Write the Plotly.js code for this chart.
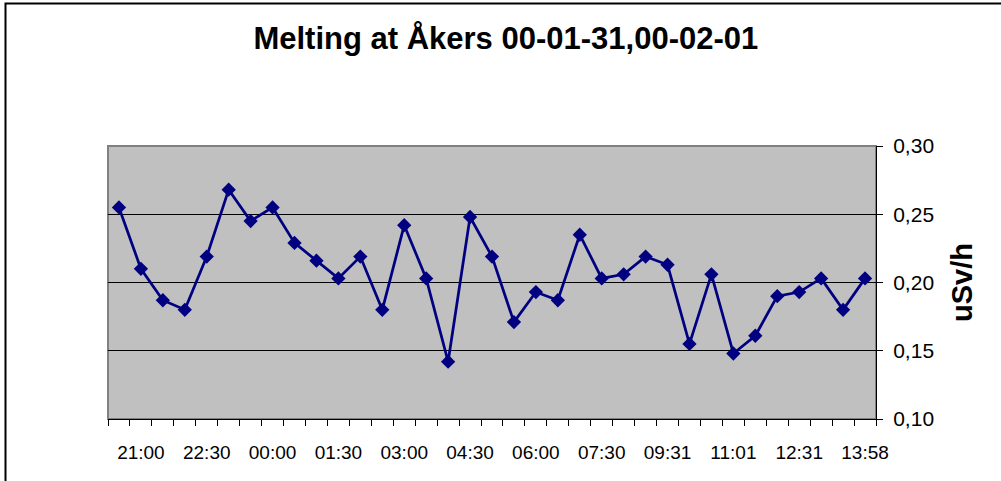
<!DOCTYPE html>
<html>
<head>
<meta charset="utf-8">
<script src="https://cdn.plot.ly/plotly-3.0.1.min.js"></script>
<style>
  html, body { margin: 0; padding: 0; background: #ffffff; }
  #chart { width: 1001px; height: 481px; }
</style>
</head>
<body>
<div id="chart"></div>
<script>
// Time of each reading (every 30 minutes, label shown on every third)
var times = [
  "20:30", "21:00", "21:30", "22:00", "22:30", "23:00", "23:30",
  "00:00", "00:30", "01:00", "01:30", "02:00", "02:30", "03:00",
  "03:30", "04:00", "04:30", "05:00", "05:30", "06:00", "06:30",
  "07:00", "07:30", "08:00", "08:30", "09:31", "10:01", "10:31",
  "11:01", "11:31", "12:01", "12:31", "13:01", "13:31", "13:58"
];
// Dose rate, uSv/h
var doseRate = [
  0.255, 0.210, 0.187, 0.180, 0.219, 0.268, 0.245,
  0.255, 0.229, 0.216, 0.203, 0.219, 0.180, 0.242,
  0.203, 0.142, 0.248, 0.219, 0.171, 0.193, 0.187,
  0.235, 0.203, 0.206, 0.219, 0.213, 0.155, 0.206,
  0.148, 0.161, 0.190, 0.193, 0.203, 0.180, 0.203
];
// Only every third time is written under the axis
var tickText = times.map(function (t, i) { return i % 3 === 1 ? t : ""; });
var yTicks = [0.10, 0.15, 0.20, 0.25, 0.30];

var plotLeft = 108, plotRight = 876, plotTop = 146, plotBottom = 419;
var W = 1001, H = 481;
var pw = plotRight - plotLeft, ph = plotBottom - plotTop;

var trace = {
  type: "scatter",
  mode: "lines+markers",
  x: times,
  y: doseRate,
  line: { color: "#000080", width: 2.75 },
  marker: { symbol: "diamond", size: 11, color: "#000080", line: { width: 0 } },
  hoverinfo: "x+y",
  showlegend: false
};

var layout = {
  width: W,
  height: H,
  margin: { l: plotLeft, r: W - plotRight, t: plotTop, b: H - plotBottom, pad: 0 },
  paper_bgcolor: "#ffffff",
  plot_bgcolor: "#C0C0C0",
  separators: ", ",
  font: { family: "Liberation Sans, Arial, sans-serif", color: "#000000" },
  title: {
    text: "<b>Melting at Åkers 00-01-31,00-02-01</b>",
    font: { family: "Liberation Sans, Arial, sans-serif", size: 31, color: "#000000" },
    x: 0.518, xref: "paper", xanchor: "center",
    y: 1 - 38 / H, yref: "container", yanchor: "middle"
  },
  xaxis: {
    type: "category",
    categoryorder: "array",
    categoryarray: times,
    range: [-0.5, times.length - 0.5],
    tickmode: "array",
    tickvals: times,
    ticktext: tickText,
    tickson: "boundaries",
    tickangle: 0,
    ticks: "outside",
    ticklen: 6,
    tickwidth: 1,
    tickcolor: "#000000",
    showgrid: false,
    zeroline: false,
    showline: true,
    linecolor: "#000000",
    linewidth: 1,
    tickfont: { size: 19, color: "#000000" },
    ticklabelstandoff: 16,
    fixedrange: true
  },
  yaxis: {
    side: "right",
    range: [0.10, 0.30],
    tickmode: "array",
    tickvals: yTicks,
    tickformat: ".2f",
    ticks: "outside",
    ticklen: 6,
    tickwidth: 1,
    tickcolor: "#000000",
    showgrid: true,
    gridcolor: "#000000",
    gridwidth: 1,
    zeroline: false,
    showline: true,
    linecolor: "#000000",
    linewidth: 1,
    tickfont: { size: 21, color: "#000000" },
    ticklabelstandoff: 6,
    automargin: false,
    title: {
      text: "<b>uSv/h</b>",
      font: { size: 29, color: "#000000" },
      standoff: 18
    },
    fixedrange: true
  },
  shapes: [
    {
      type: "rect", xref: "paper", yref: "paper", layer: "below",
      x0: 0, x1: 1, y0: 0, y1: 1,
      line: { color: "#808080", width: 2 }, fillcolor: "rgba(0,0,0,0)"
    },
    {
      type: "rect", xref: "paper", yref: "paper", layer: "above",
      x0: (5.5 - plotLeft) / pw, x1: (W + 30 - plotLeft) / pw,
      y0: (plotBottom - (H + 30)) / ph, y1: (plotBottom - 3.5) / ph,
      line: { color: "#000000", width: 2 }, fillcolor: "rgba(0,0,0,0)"
    }
  ]
};

Plotly.newPlot("chart", [trace], layout, { staticPlot: true, displayModeBar: false });
</script>
</body>
</html>
